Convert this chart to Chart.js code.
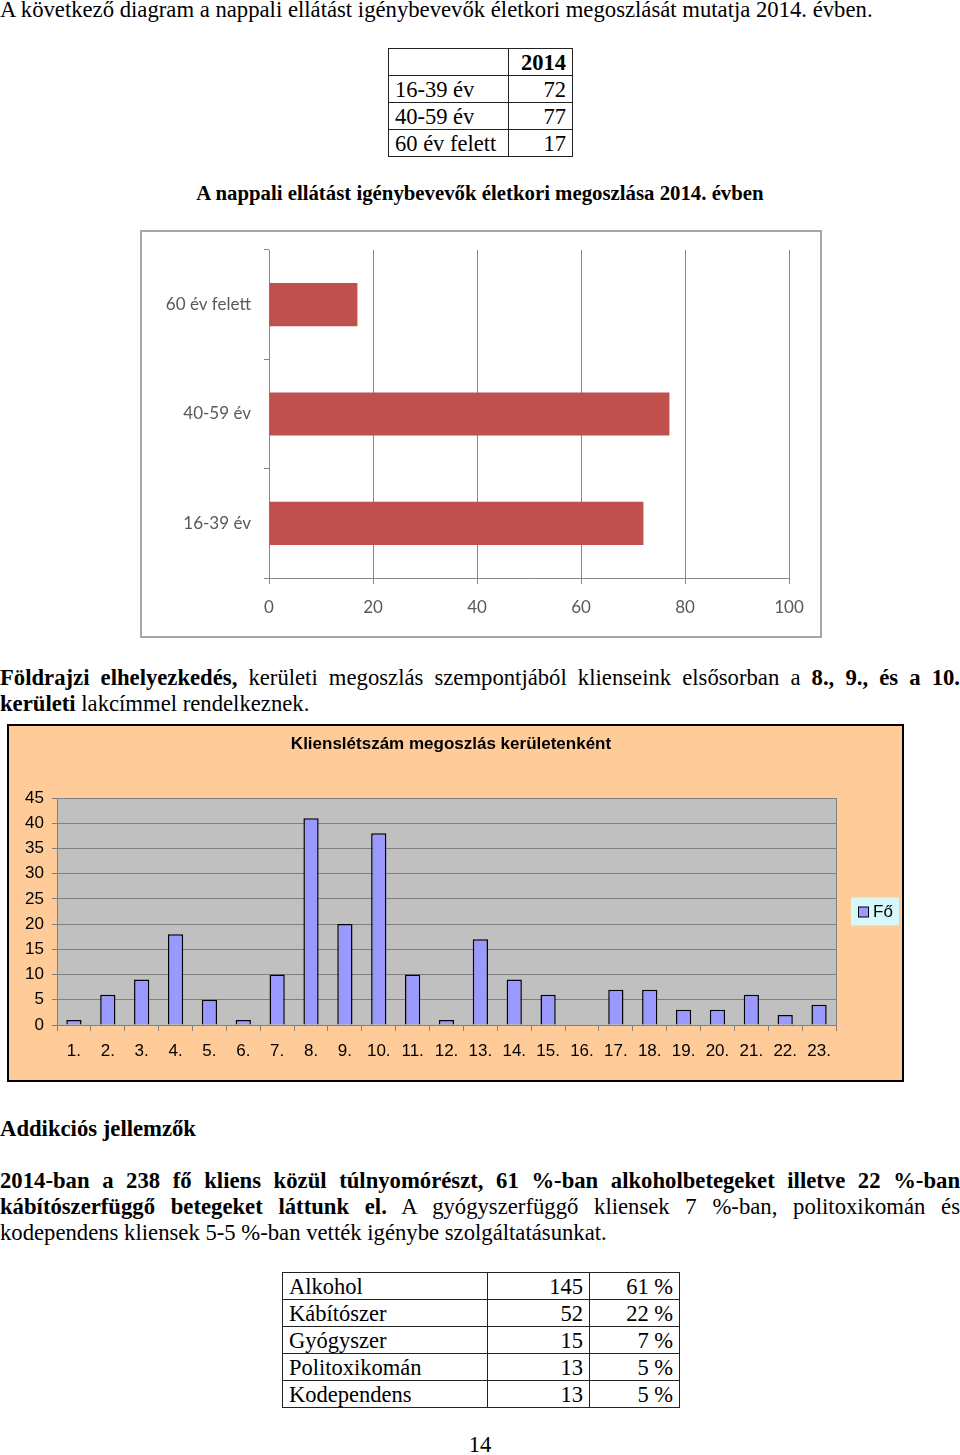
<!DOCTYPE html>
<html>
<head>
<meta charset="utf-8">
<script src="https://cdn.jsdelivr.net/npm/chart.js@4.4.1/dist/chart.umd.min.js"></script>
<style>
  html, body { margin:0; padding:0; background:#fff; }
  body { width:960px; height:1455px; position:relative; overflow:hidden; font-family:'Liberation Serif','Times New Roman',serif; color:#000; }
  .t { position:absolute; left:0; font-size:22.7px; line-height:26px; white-space:nowrap; }
  .j { width:960px; text-align:justify; text-align-last:justify; white-space:normal; }
  b { font-weight:bold; }
  table { position:absolute; border-collapse:collapse; font-size:22.5px; }
  tr { height:27px; }
  td { border:1.5px solid #222; padding:0 6px; line-height:25px; }
  td.num { text-align:right; }
  #box1 { position:absolute; left:140px; top:230px; width:678px; height:404px; border:2px solid #a6a6a6; background:#fff; }
  #box2 { position:absolute; left:7px; top:724px; width:893px; height:354px; border:2px solid #000; background:#FFCC99; }
  canvas { display:block; }
</style>
</head>
<body>
<div class="t" style="top:-3px;">A következő diagram a nappali ellátást igénybevevők életkori megoszlását mutatja 2014. évben.</div>

<table id="tbl1" style="left:388px; top:48px;">
  <colgroup><col style="width:120px"><col style="width:64px"></colgroup>
  <tbody id="tbl1body"></tbody>
</table>

<div class="t" style="top:180px; width:960px; text-align:center; font-weight:bold; font-size:20.8px;">A nappali ellátást igénybevevők életkori megoszlása 2014. évben</div>

<div id="box1"><canvas id="c1" width="678" height="404"></canvas></div>

<div class="t j" style="top:665px;"><b>Földrajzi elhelyezkedés,</b> kerületi megoszlás szempontjából klienseink elsősorban a <b>8., 9., és a 10.</b></div>
<div class="t" style="top:691px;"><b>kerületi</b> lakcímmel rendelkeznek.</div>

<div id="box2"><canvas id="c2" width="893" height="354"></canvas></div>

<div class="t" style="top:1116px; font-weight:bold;">Addikciós jellemzők</div>
<div class="t j" style="top:1168px; font-weight:bold;">2014-ban a 238 fő kliens közül túlnyomórészt, 61 %-ban alkoholbetegeket illetve 22 %-ban</div>
<div class="t j" style="top:1194px;"><b>kábítószerfüggő betegeket láttunk el.</b> A gyógyszerfüggő kliensek 7 %-ban, politoxikomán és</div>
<div class="t" style="top:1220px;">kodependens kliensek 5-5 %-ban vették igénybe szolgáltatásunkat.</div>

<table id="tbl2" style="left:282px; top:1272px;">
  <colgroup><col style="width:205px"><col style="width:102px"><col style="width:90px"></colgroup>
  <tbody id="tbl2body"></tbody>
</table>

<div class="t" style="top:1432px; width:960px; text-align:center;">14</div>

<script>
// ---- Data ----
const ageYear = '2014';
const ageCategories = ['16-39 év', '40-59 év', '60 év felett'];
const ageValues = [72, 77, 17];

const districtLabels = ['1.','2.','3.','4.','5.','6.','7.','8.','9.','10.','11.','12.','13.','14.','15.','16.','17.','18.','19.','20.','21.','22.','23.'];
const districtValues = [1, 6, 9, 18, 5, 1, 10, 41, 20, 38, 10, 1, 17, 9, 6, 0, 7, 7, 3, 3, 6, 2, 4];
const districtSeries = 'Fő';

const addictionTypes = ['Alkohol', 'Kábítószer', 'Gyógyszer', 'Politoxikomán', 'Kodependens'];
const addictionCounts = [145, 52, 15, 13, 13];
const addictionPercents = ['61 %', '22 %', '7 %', '5 %', '5 %'];

// ---- Tables ----
(function(){
  const b1 = document.getElementById('tbl1body');
  let h = '<tr><td></td><td class="num"><b>' + ageYear + '</b></td></tr>';
  ageCategories.forEach((c,i)=>{ h += '<tr><td>' + c + '</td><td class="num">' + ageValues[i] + '</td></tr>'; });
  b1.innerHTML = h;
  const b2 = document.getElementById('tbl2body');
  let h2 = '';
  addictionTypes.forEach((c,i)=>{ h2 += '<tr><td>' + c + '</td><td class="num">' + addictionCounts[i] + '</td><td class="num">' + addictionPercents[i] + '</td></tr>'; });
  b2.innerHTML = h2;
})();

// ---- Chart 1 ----
new Chart(document.getElementById('c1'), {
  type: 'bar',
  data: {
    labels: ageCategories,
    datasets: [{ label: ageYear, data: ageValues, backgroundColor: '#C0504D', borderWidth: 0,
      barPercentage: 0.395, categoryPercentage: 1 }]
  },
  options: {
    indexAxis: 'y',
    responsive: false, animation: false, devicePixelRatio: 1,
    layout: { padding: { top: 18, right: 31, left: 0, bottom: 0 } },
    plugins: { legend: { display: false }, title: { display: false }, tooltip: { enabled: false } },
    scales: {
      x: {
        min: 0, max: 100,
        ticks: { stepSize: 20, font: { family: 'Lato', size: 17 }, color: '#595959', padding: 13 },
        grid: { color: '#868686', lineWidth: 1, tickLength: 6 },
        border: { color: '#868686' },
        afterFit: s => { s.height = 58; }
      },
      y: {
        reverse: true,
        ticks: { font: { family: 'Lato', size: 17 }, color: '#595959', padding: 13 },
        grid: { drawOnChartArea: false, color: '#868686', tickLength: 5 },
        border: { color: '#868686' },
        afterFit: s => { s.width = 127; s.paddingTop = 0; s.paddingBottom = 0; }
      }
    }
  }
});

// ---- Chart 2 ----
const plotBg = {
  id: 'plotBg',
  beforeDraw(chart) {
    const a = chart.chartArea, ctx = chart.ctx;
    ctx.save(); ctx.fillStyle = '#C0C0C0'; ctx.fillRect(a.left, a.top, a.right - a.left, a.bottom - a.top); ctx.restore();
  },
  afterDatasetsDraw(chart) {
    const a = chart.chartArea, ctx = chart.ctx;
    ctx.save(); ctx.strokeStyle = '#808080'; ctx.lineWidth = 1;
    ctx.beginPath(); ctx.moveTo(a.right + 0.5, a.top); ctx.lineTo(a.right + 0.5, a.bottom); ctx.stroke();
    ctx.restore();
  },
  afterDraw(chart) {
    const a = chart.chartArea, ctx = chart.ctx;
    const ds = chart.data.datasets[0];
    const bx = a.right + 15, bw = 48, bh = 28, by = (a.top + a.bottom) / 2 - bh / 2;
    ctx.save();
    ctx.fillStyle = '#D6F8FA'; ctx.fillRect(bx, by, bw, bh);
    ctx.fillStyle = ds.backgroundColor; ctx.fillRect(bx + 7, by + 9.5, 10, 10);
    ctx.strokeStyle = '#000'; ctx.lineWidth = 1; ctx.strokeRect(bx + 7.5, by + 9.5, 10, 10);
    ctx.fillStyle = '#000'; ctx.font = '17px "Liberation Sans", Arial, sans-serif'; ctx.textBaseline = 'middle';
    ctx.fillText(ds.label, bx + 22, by + bh / 2 + 1);
    ctx.restore();
  }
};

new Chart(document.getElementById('c2'), {
  type: 'bar',
  data: {
    labels: districtLabels,
    datasets: [{ label: districtSeries, data: districtValues, backgroundColor: '#9999FF', borderColor: '#000', borderWidth: 1.5,
      barPercentage: 0.45, categoryPercentage: 1 }]
  },
  options: {
    responsive: false, animation: false, devicePixelRatio: 1,
    layout: { padding: { top: 0, right: 9, left: 0, bottom: 0 } },
    plugins: {
      legend: { display: false }, tooltip: { enabled: false },
      title: { display: true, text: 'Klienslétszám megoszlás kerületenként', color: '#000',
        font: { family: 'Liberation Sans', size: 17, weight: 'bold' }, padding: { top: 8, bottom: 43.6 } }
    },
    scales: {
      x: {
        ticks: { font: { family: 'Liberation Sans', size: 17 }, color: '#000', padding: 10 },
        grid: { drawOnChartArea: false, color: '#808080', tickLength: 6 },
        border: { color: '#808080' },
        afterFit: s => { s.height = 55; }
      },
      y: {
        min: 0, max: 45,
        ticks: { stepSize: 5, font: { family: 'Liberation Sans', size: 17 }, color: '#000', padding: 8 },
        grid: { color: '#808080', tickLength: 5 },
        border: { color: '#808080' },
        afterFit: s => { s.width = 48; }
      },
      legendSpace: {
        type: 'linear', position: 'right', display: true,
        ticks: { display: false }, grid: { display: false }, border: { display: false },
        afterFit: s => { s.width = 57; }
      }
    }
  },
  plugins: [plotBg]
});
</script>
</body>
</html>
